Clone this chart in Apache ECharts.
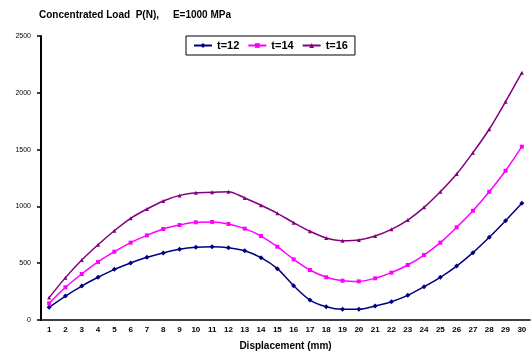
<!DOCTYPE html>
<html>
<head>
<meta charset="utf-8">
<script src="https://cdn.jsdelivr.net/npm/echarts@6/dist/echarts.min.js"></script>
<style>
  html, body { margin: 0; padding: 0; background: #fff; }
  #chart { width: 531px; height: 356px; }
</style>
</head>
<body>
<div id="chart"></div>
<script>
// 位移 1..30 mm
const displacement = Array.from({ length: 30 }, (_, i) => String(i + 1))

// 三种厚度下的集中荷载 P(N)
const t12 = [112, 211, 299, 376, 446, 502, 552, 590, 622, 640, 645, 637, 610, 549, 452,
  302, 176, 117, 94, 94, 123, 161, 217, 293, 376, 475, 593, 728, 874, 1027]
const t14 = [147, 288, 405, 511, 601, 681, 745, 801, 836, 860, 863, 845, 804, 739, 645,
  534, 440, 376, 346, 340, 367, 417, 484, 572, 681, 816, 962, 1129, 1314, 1526]
const t16 = [197, 373, 528, 663, 786, 895, 977, 1048, 1097, 1121, 1124, 1130, 1074, 1010, 939,
  857, 781, 722, 698, 704, 739, 798, 880, 992, 1129, 1285, 1473, 1679, 1922, 2177]

const font = 'Arial, "Liberation Sans", sans-serif'

function line(name, data, color, symbol) {
  return {
    name,
    type: 'line',
    data,
    smooth: 0.3,
    symbol,
    symbolSize: symbol === 'diamond' ? 5 : 4,
    lineStyle: { color, width: 1.5 },
    itemStyle: { color }
  }
}

const chart = echarts.init(document.getElementById('chart'), null, { renderer: 'canvas' })
chart.setOption({
  animation: false,
  title: {
    text: 'Concentrated Load  P(N),     E=1000 MPa',
    left: 34,
    top: 5,
    textStyle: { fontFamily: font, fontSize: 10, fontWeight: 'bold', color: '#000' }
  },
  legend: {
    top: 36,
    left: 186,
    itemWidth: 18,
    itemHeight: 6,
    itemGap: 8,
    padding: [4, 7],
    borderColor: '#000',
    borderWidth: 1,
    borderRadius: 0,
    textStyle: { fontFamily: font, fontSize: 11, fontWeight: 'bold', color: '#000' },
    data: ['t=12', 't=14', 't=16']
  },
  grid: { left: 41, right: 1, top: 36, bottom: 36 },
  xAxis: {
    type: 'category',
    data: displacement,
    boundaryGap: true,
    name: 'Displacement (mm)',
    nameLocation: 'middle',
    nameGap: 21,
    nameTextStyle: { fontFamily: font, fontSize: 10, fontWeight: 'bold', color: '#000' },
    axisLine: { lineStyle: { color: '#000', width: 1.5 } },
    axisTick: { length: 4, lineStyle: { color: '#000', width: 1.5 } },
    axisLabel: { interval: 0, fontFamily: font, fontSize: 8, fontWeight: 'bold', color: '#000', margin: 6 }
  },
  yAxis: {
    type: 'value',
    min: 0,
    max: 2500,
    interval: 500,
    axisLine: { show: true, lineStyle: { color: '#000', width: 2 } },
    axisTick: { show: true, length: 4, lineStyle: { color: '#000', width: 1.5 } },
    splitLine: { show: false },
    axisLabel: { formatter: v => String(v), fontFamily: font, fontSize: 7, color: '#000', margin: 10 }
  },
  series: [
    line('t=12', t12, '#000080', 'diamond'),
    line('t=14', t14, '#ff00ff', 'rect'),
    line('t=16', t16, '#800080', 'triangle')
  ]
})
</script>
</body>
</html>
